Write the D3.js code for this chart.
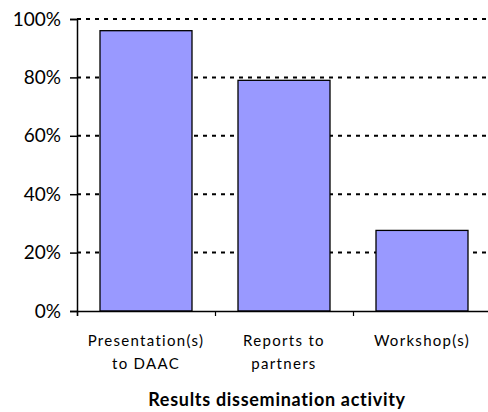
<!DOCTYPE html>
<html><head><meta charset="utf-8">
<script src="https://cdn.jsdelivr.net/npm/d3@7"></script>
<style>body{margin:0;background:#fff}svg{display:block}</style>
</head><body>
<svg id="c" width="488" height="412"></svg>
<script>
const categories = [["Presentation(s)","to DAAC"],["Reports to","partners"],["Workshop(s)"]];
const values = [0.96, 0.79, 0.276];
const yTicks = [0, 0.2, 0.4, 0.6, 0.8, 1.0];
const xTitle = "Results dissemination activity";

(function(){
const svg = d3.select("#c");
const mL = 77, mR = 491, mT = 19, mB = 311;
const x = d3.scaleBand().domain(d3.range(categories.length)).range([mL, mR]).paddingInner(1/3).paddingOuter(1/6);
const y = d3.scaleLinear().domain([0, 1]).range([mB, mT]);

// gridlines
svg.append("g").selectAll("line").data(yTicks.filter(d => d > 0)).join("line")
  .attr("x1", mL).attr("x2", mR)
  .attr("y1", d => y(d)).attr("y2", d => y(d))
  .attr("stroke", "#000").attr("stroke-width", 2).attr("stroke-dasharray", "4,5");

// bars
svg.append("g").selectAll("rect").data(values).join("rect")
  .attr("x", (d, i) => x(i)).attr("width", x.bandwidth())
  .attr("y", d => y(d)).attr("height", d => y(0) - y(d))
  .attr("fill", "#9999ff").attr("stroke", "#000").attr("stroke-width", 1.3);

// y axis
const ya = svg.append("g").attr("transform", `translate(${mL},0)`)
  .call(d3.axisLeft(y).tickValues(yTicks).tickFormat(d3.format(".0%")).tickSize(7).tickPadding(9));
ya.select(".domain").attr("stroke-width", 1.5);
ya.selectAll(".tick line").attr("stroke-width", 1.5);
ya.selectAll("text").attr("font-family", "Lato, sans-serif").attr("font-size", 19).attr("fill", "#000");

// x axis
const xb = d3.scaleLinear().domain([0, categories.length]).range([mL, mR]);
const xa = svg.append("g").attr("transform", `translate(0,${mB})`)
  .call(d3.axisBottom(xb).tickValues(d3.range(categories.length + 1)).tickSize(5).tickFormat(""));
xa.select(".domain").attr("stroke-width", 1.5);
xa.selectAll(".tick line").attr("stroke-width", 1.2);

// category labels
const lab = svg.append("g").selectAll("text").data(categories).join("text")
  .attr("x", (d, i) => x(i) + x.bandwidth() / 2)
  .attr("y", 346)
  .attr("text-anchor", "middle")
  .attr("font-family", "Lato, sans-serif").attr("font-size", 15).attr("letter-spacing", 1.3).attr("fill", "#000");
lab.each(function(d) {
  const cx = d3.select(this).attr("x");
  d3.select(this).selectAll("tspan").data(d).join("tspan")
    .attr("x", cx).attr("dy", (t, j) => j === 0 ? 0 : 23).text(t => t);
});

svg.append("text").attr("x", 277).attr("y", 406).attr("text-anchor", "middle")
  .attr("font-family", "Lato, sans-serif").attr("font-weight", "bold").attr("font-size", 18)
  .attr("letter-spacing", 0.7).attr("fill", "#000").text(xTitle);
})();
</script>
</body></html>
